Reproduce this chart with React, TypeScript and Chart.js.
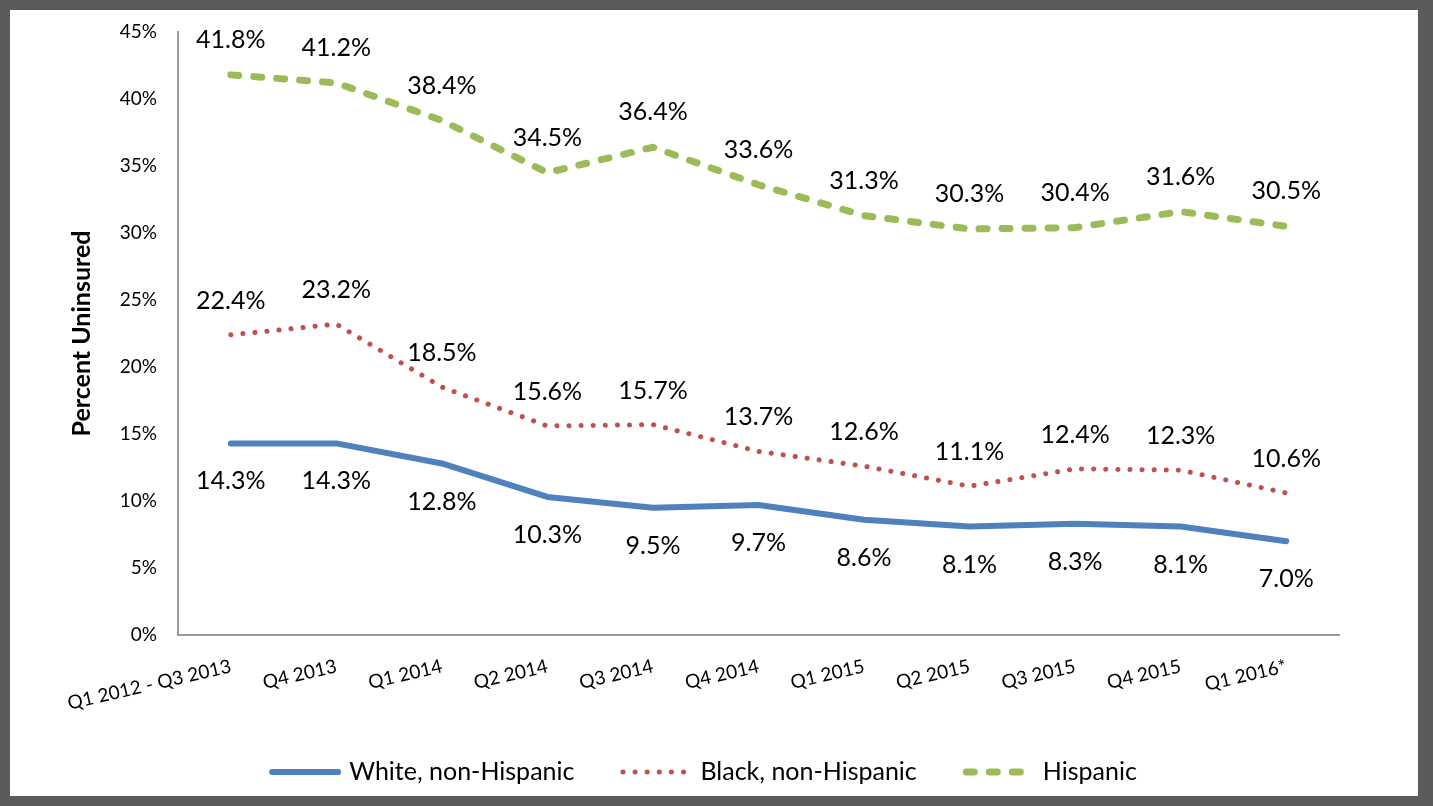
import React, { useEffect, useRef } from 'react';
import { Chart, registerables } from 'chart.js';

Chart.register(...registerables);

const categories = [
  'Q1 2012 - Q3 2013',
  'Q4 2013',
  'Q1 2014',
  'Q2 2014',
  'Q3 2014',
  'Q4 2014',
  'Q1 2015',
  'Q2 2015',
  'Q3 2015',
  'Q4 2015',
  'Q1 2016*',
];
const whiteValues = [14.3, 14.3, 12.8, 10.3, 9.5, 9.7, 8.6, 8.1, 8.3, 8.1, 7.0];
const blackValues = [22.4, 23.2, 18.5, 15.6, 15.7, 13.7, 12.6, 11.1, 12.4, 12.3, 10.6];
const hispanicValues = [41.8, 41.2, 38.4, 34.5, 36.4, 33.6, 31.3, 30.3, 30.4, 31.6, 30.5];
const seriesNames = ['White, non-Hispanic', 'Black, non-Hispanic', 'Hispanic'];
const yAxisTitle = 'Percent Uninsured';
const yMin = 0;
const yMax = 45;
const yStep = 5;

const FONT = 'Lato, "Open Sans", sans-serif';
const CANVAS_W = 1408;
const CANVAS_H = 786;

const dataLabelPlugin = {
  id: 'dataLabels',
  afterDatasetsDraw(chart: any) {
    const ctx = chart.ctx;
    ctx.save();
    ctx.font = `25px ${FONT}`;
    ctx.fillStyle = '#000';
    ctx.textAlign = 'center';
    ctx.textBaseline = 'middle';
    chart.data.datasets.forEach((ds: any, i: number) => {
      const meta = chart.getDatasetMeta(i);
      meta.data.forEach((pt: any, j: number) => {
        const v = ds.data[j] as number;
        ctx.fillText(v.toFixed(1) + '%', pt.x, pt.y + ds.labelOffset);
      });
    });
    ctx.restore();
  },
};

const legendPlugin = {
  id: 'customLegend',
  afterDraw(chart: any) {
    const ctx = chart.ctx;
    const ds = chart.data.datasets;
    ctx.save();
    ctx.font = `25px ${FONT}`;
    const lineLen = 72;
    const gap = 8;
    const spacing = 46;
    const widths = ds.map((d: any) => lineLen + gap + ctx.measureText(d.label).width);
    const total = widths.reduce((a: number, b: number) => a + b, 0) + spacing * (ds.length - 1);
    let x = 693 - total / 2;
    const y = 762;
    ds.forEach((d: any, i: number) => {
      ctx.beginPath();
      ctx.strokeStyle = d.borderColor;
      ctx.lineWidth = d.borderWidth;
      ctx.setLineDash(d.borderDash || []);
      ctx.lineCap = 'round';
      ctx.moveTo(x + d.borderWidth / 2, y);
      ctx.lineTo(x + lineLen - d.borderWidth / 2, y);
      ctx.stroke();
      ctx.setLineDash([]);
      ctx.fillStyle = '#000';
      ctx.textAlign = 'left';
      ctx.textBaseline = 'middle';
      ctx.fillText(d.label, x + lineLen + gap, y);
      x += widths[i] + spacing;
    });
    ctx.restore();
  },
};

export default function App() {
  const canvasRef = useRef<HTMLCanvasElement | null>(null);

  useEffect(() => {
    if (!canvasRef.current) return;
    const chart = new Chart(canvasRef.current, {
      type: 'line',
      data: {
        labels: categories,
        datasets: [
          {
            label: seriesNames[0],
            data: whiteValues,
            borderColor: '#4F81BD',
            backgroundColor: '#4F81BD',
            borderWidth: 6,
            borderCapStyle: 'round',
            borderJoinStyle: 'round',
            pointRadius: 0,
            tension: 0,
            labelOffset: 38,
          } as any,
          {
            label: seriesNames[1],
            data: blackValues,
            borderColor: '#C0504D',
            backgroundColor: '#C0504D',
            borderWidth: 5,
            borderDash: [0.1, 12],
            borderCapStyle: 'round',
            borderJoinStyle: 'round',
            pointRadius: 0,
            tension: 0,
            labelOffset: -34,
          } as any,
          {
            label: seriesNames[2],
            data: hispanicValues,
            borderColor: '#9BBB59',
            backgroundColor: '#9BBB59',
            borderWidth: 7,
            borderDash: [8, 15],
            borderCapStyle: 'round',
            borderJoinStyle: 'round',
            pointRadius: 0,
            tension: 0,
            labelOffset: -35,
          } as any,
        ],
      },
      options: {
        responsive: false,
        animation: false,
        layout: { padding: { left: 40, top: 22, right: 79, bottom: 71 } },
        plugins: {
          legend: { display: false },
          tooltip: { enabled: false },
        },
        scales: {
          x: {
            offset: true,
            grid: { display: false, drawTicks: false },
            border: { display: true, color: '#9a9a9a', width: 2 },
            ticks: {
              color: '#000',
              font: { family: FONT, size: 19 },
              minRotation: 13,
              maxRotation: 13,
              padding: 20,
              autoSkip: false,
            },
            afterFit: (scale: any) => {
              scale.height = 90;
            },
          },
          y: {
            min: yMin,
            max: yMax,
            grid: { display: false, drawTicks: false },
            border: { display: true, color: '#9a9a9a', width: 2 },
            ticks: {
              stepSize: yStep,
              color: '#000',
              font: { family: FONT, size: 19 },
              padding: 21,
              callback: (v: any) => `${v}%`,
            },
            title: {
              display: true,
              text: yAxisTitle,
              color: '#000',
              font: { family: FONT, size: 25, weight: 'bold' },
              padding: { top: 17, bottom: 0 },
            },
            afterFit: (scale: any) => {
              scale.width = 128;
              scale.paddingTop = 10;
              scale.paddingBottom = 10;
            },
          },
        },
      },
      plugins: [dataLabelPlugin, legendPlugin],
    });
    return () => chart.destroy();
  }, []);

  return (
    <div
      style={{
        position: 'fixed',
        left: 0,
        top: 0,
        width: 1433,
        height: 806,
        background: '#5b5b5b',
      }}
    >
      <div
        style={{
          position: 'absolute',
          left: 10,
          top: 10,
          width: CANVAS_W,
          height: CANVAS_H,
          background: '#ffffff',
        }}
      >
        <canvas
          ref={canvasRef}
          width={CANVAS_W}
          height={CANVAS_H}
          style={{ display: 'block', width: CANVAS_W, height: CANVAS_H }}
        />
      </div>
    </div>
  );
}
